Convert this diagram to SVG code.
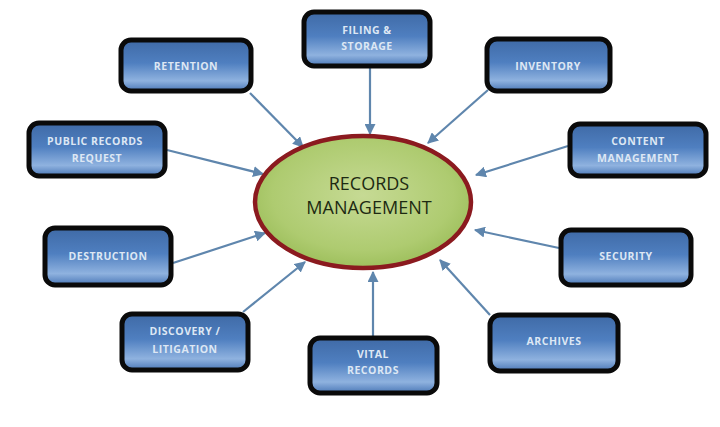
<svg xmlns="http://www.w3.org/2000/svg" width="720" height="427" viewBox="0 0 720 427">
<defs>
<linearGradient id="bx" x1="0" y1="0" x2="0" y2="1">
<stop offset="0" stop-color="#3f6aa6"/>
<stop offset="0.45" stop-color="#4f7fc0"/>
<stop offset="0.8" stop-color="#8fb2df"/>
<stop offset="1" stop-color="#4a77b6"/>
</linearGradient>
<radialGradient id="el" cx="0.5" cy="0.45" r="0.6">
<stop offset="0" stop-color="#c6da94"/>
<stop offset="0.7" stop-color="#aecb70"/>
<stop offset="1" stop-color="#98bb55"/>
</radialGradient>
<marker id="ar" viewBox="0 0 10 10" refX="9" refY="5" markerWidth="5" markerHeight="5" orient="auto">
<path d="M0,0 L10,5 L0,10 z" fill="#5f86ad"/>
</marker>
</defs>
<style>
.b{fill:url(#bx);stroke:#0a0a0a;stroke-width:5}
.t{font-family:"Open Sans","Liberation Sans",sans-serif;font-size:10.5px;font-weight:bold;fill:#dde7f4;text-anchor:middle;letter-spacing:0.5px}
.c{stroke:#5f86ad;stroke-width:2.2;fill:none;marker-end:url(#ar)}
.m{font-family:"Open Sans","Liberation Sans",sans-serif;font-size:18px;fill:#1d2a12;text-anchor:middle}
</style>
<rect width="720" height="427" fill="#ffffff"/>
<g id="connectors">
<line class="c" x1="250" y1="93" x2="303" y2="147"/>
<line class="c" x1="370" y1="68" x2="370" y2="134"/>
<line class="c" x1="488" y1="90" x2="428" y2="143"/>
<line class="c" x1="568" y1="146" x2="476" y2="175"/>
<line class="c" x1="167" y1="150" x2="263" y2="174"/>
<line class="c" x1="173" y1="263" x2="265" y2="233"/>
<line class="c" x1="243" y1="312" x2="305" y2="262"/>
<line class="c" x1="373" y1="336" x2="373" y2="272"/>
<line class="c" x1="490" y1="315" x2="440" y2="260"/>
<line class="c" x1="559" y1="248" x2="475" y2="230"/>
</g>
<g id="center">
<ellipse cx="363" cy="202" rx="108" ry="66" fill="url(#el)" stroke="#8b1a1f" stroke-width="4.5"/>
<text class="m" x="369" y="190">RECORDS</text>
<text class="m" x="369" y="214">MANAGEMENT</text>
</g>
<g id="filing"><rect class="b" x="304" y="12" width="126" height="54" rx="10"/><text class="t" x="367" y="34">FILING &amp;</text><text class="t" x="367" y="50">STORAGE</text></g>
<g id="retention"><rect class="b" x="121" y="40" width="130" height="51" rx="10"/><text class="t" x="186" y="70">RETENTION</text></g>
<g id="public"><rect class="b" x="29" y="123" width="136" height="53" rx="10"/><text class="t" x="95" y="145">PUBLIC RECORDS</text><text class="t" x="97" y="162">REQUEST</text></g>
<g id="inventory"><rect class="b" x="487" y="39" width="123" height="52" rx="10"/><text class="t" x="548" y="70">INVENTORY</text></g>
<g id="content"><rect class="b" x="570" y="124" width="136" height="52" rx="10"/><text class="t" x="638" y="145">CONTENT</text><text class="t" x="638" y="162">MANAGEMENT</text></g>
<g id="destruction"><rect class="b" x="45" y="228" width="126" height="57" rx="10"/><text class="t" x="108" y="260">DESTRUCTION</text></g>
<g id="security"><rect class="b" x="561" y="230" width="130" height="55" rx="10"/><text class="t" x="626" y="260">SECURITY</text></g>
<g id="discovery"><rect class="b" x="122" y="314" width="126" height="56" rx="10"/><text class="t" x="185" y="335">DISCOVERY /</text><text class="t" x="185" y="353">LITIGATION</text></g>
<g id="vital"><rect class="b" x="310" y="338" width="127" height="55" rx="10"/><text class="t" x="373" y="358">VITAL</text><text class="t" x="373" y="374">RECORDS</text></g>
<g id="archives"><rect class="b" x="490" y="315" width="128" height="56" rx="10"/><text class="t" x="554" y="345">ARCHIVES</text></g>
</svg>
